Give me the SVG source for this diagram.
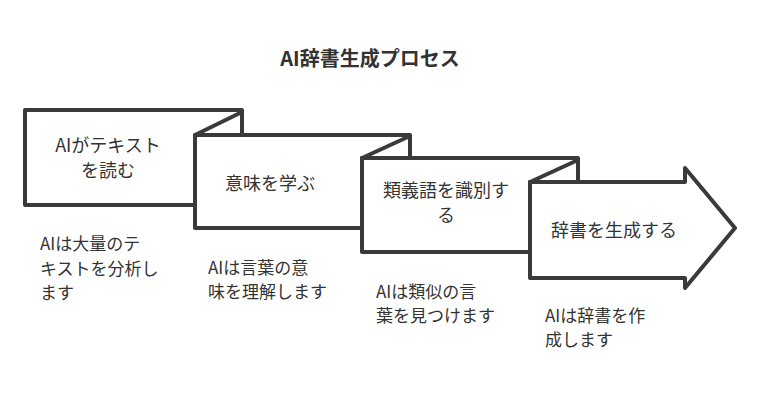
<svg xmlns="http://www.w3.org/2000/svg" width="761" height="400" viewBox="0 0 761 400">
<style>
.s{fill:#fff;stroke:#3a3a3a;stroke-width:4;stroke-linejoin:round}
.f{fill:none;stroke:#3a3a3a;stroke-width:4;stroke-linecap:round}
text{font-family:"Noto Sans CJK JP","Noto Sans",sans-serif;fill:#333}
.n{font-size:18px;text-anchor:middle}
.d{font-size:17px}
</style>
<rect width="761" height="400" fill="#fff"/>
<text x="370" y="66" font-size="20" font-weight="bold" text-anchor="middle">AI辞書生成プロセス</text>
<g id="n1"><path class="s" d="M25 110H242V136H195V205H25Z"/><text class="n" x="108" y="152">AIがテキスト</text><text class="n" x="108" y="177">を読む</text></g>
<g id="n2"><path class="s" d="M195 135H410V158H362V228H195Z"/><path class="f" d="M195 135L242 112"/><text class="n" x="270" y="190">意味を学ぶ</text></g>
<g id="n3"><path class="s" d="M362 158H578V182H530V252H362Z"/><path class="f" d="M362 158L410 136"/><text class="n" x="446" y="197">類義語を識別す</text><text class="n" x="446" y="222">る</text></g>
<g id="n4"><path class="s" d="M530 182H685V168L735 228L685 288V278H530Z"/><path class="f" d="M530 182L578 160"/><text class="n" x="614" y="237">辞書を生成する</text></g>
<g id="labels">
<text class="d" x="40" y="250">AIは大量のテ</text><text class="d" x="40" y="275">キストを分析し</text><text class="d" x="40" y="299">ます</text>
<text class="d" x="208" y="274">AIは言葉の意</text><text class="d" x="208" y="298">味を理解します</text>
<text class="d" x="376" y="298">AIは類似の言</text><text class="d" x="376" y="322">葉を見つけます</text>
<text class="d" x="545" y="322">AIは辞書を作</text><text class="d" x="545" y="346">成します</text>
</g>
<g id="connectors"></g>
</svg>
